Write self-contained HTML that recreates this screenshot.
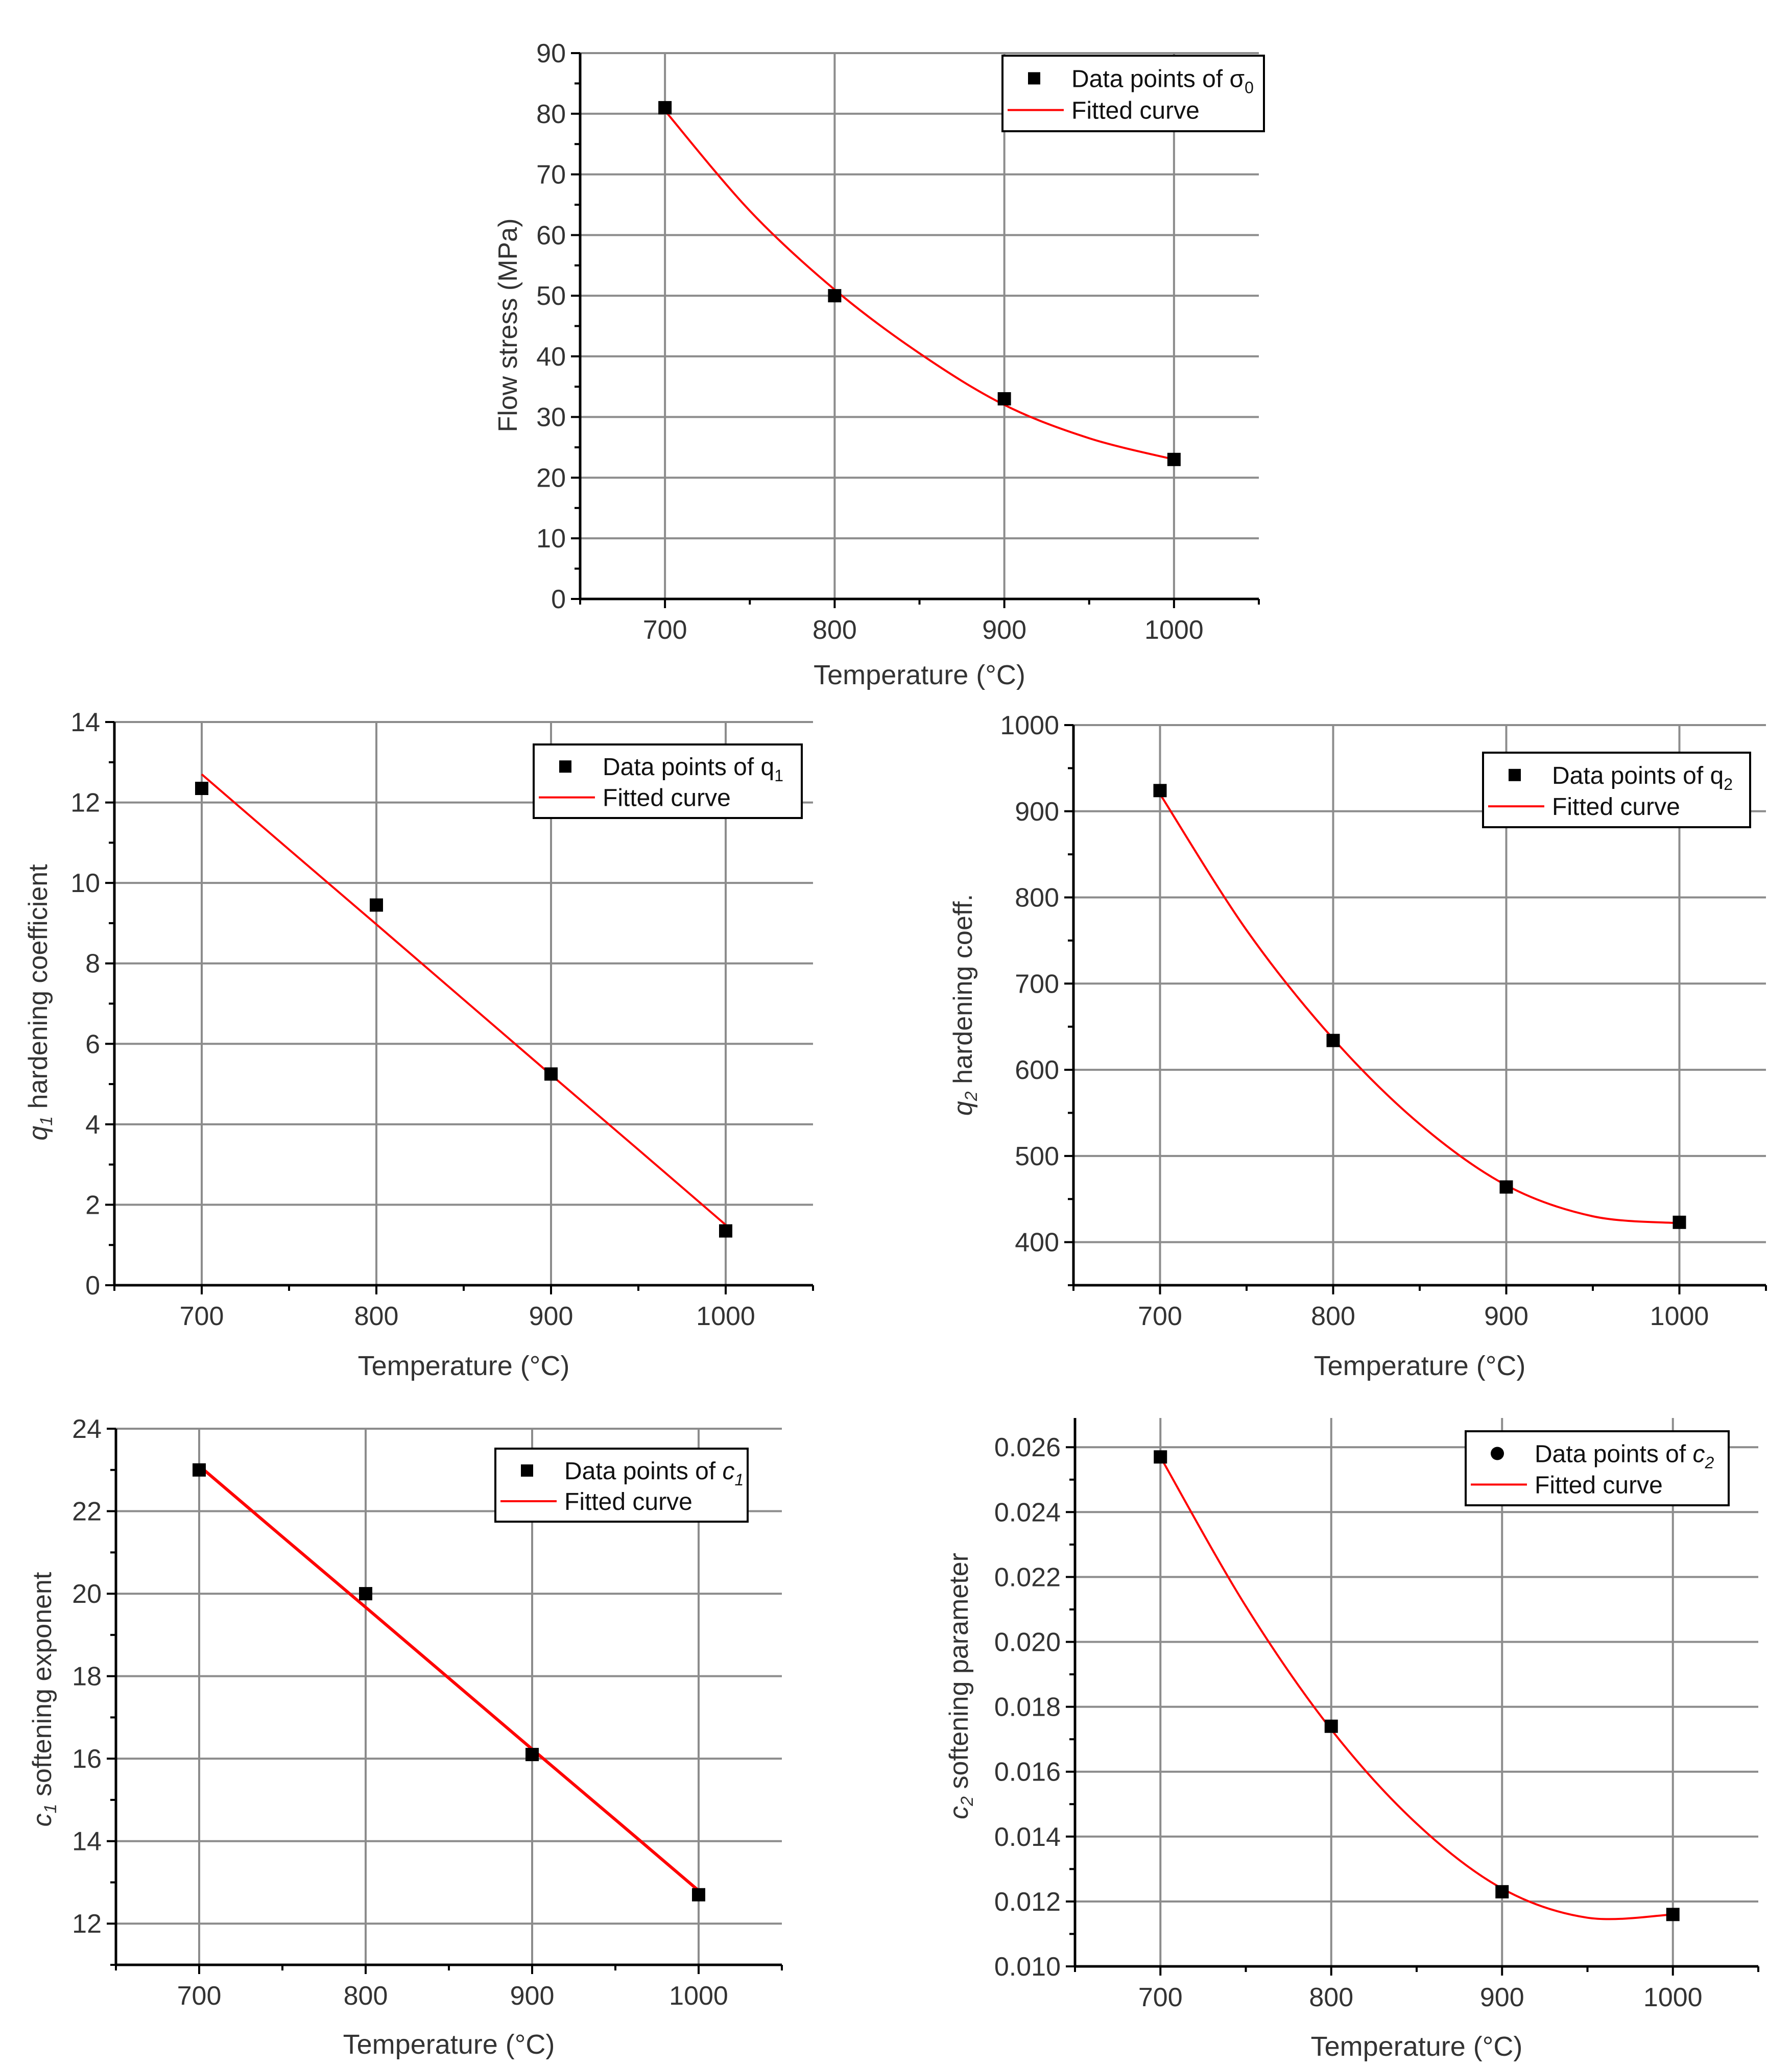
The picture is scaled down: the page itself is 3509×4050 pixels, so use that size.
<!DOCTYPE html>
<html><head><meta charset="utf-8">
<style>
html,body{margin:0;padding:0;background:#fff;}
svg{display:block;font-family:"Liberation Sans",Arial,sans-serif;}
</style></head>
<body>
<svg id="fig" width="3509" height="4050" viewBox="0 0 3509 4050" xmlns="http://www.w3.org/2000/svg"></svg>
<script>
const temps = [700, 800, 900, 1000];
const xTicks = [700, 800, 900, 1000];
const fitTemps = [700, 750, 800, 850, 900, 950, 1000];

const sigmaData = [81, 50, 33, 23];
const sigmaFit = [80.5, 64, 51, 40.5, 32, 26.5, 23];
const sigmaTicks = [0,10,20,30,40,50,60,70,80,90];

const q1Data = [12.35, 9.45, 5.25, 1.35];
const q1Fit = [12.7, 10.83, 8.97, 7.1, 5.23, 3.37, 1.5];
const q1Ticks = [0,2,4,6,8,10,12,14];

const q2Data = [924, 634, 464, 423];
const q2Fit = [920, 762, 636, 537, 466, 430, 422];
const q2Ticks = [400,500,600,700,800,900,1000];

const c1Data = [23.0, 20.0, 16.1, 12.7];
const c1Fit = [23.1, 21.38, 19.67, 17.95, 16.23, 14.52, 12.8];
const c1Ticks = [12,14,16,18,20,22,24];

const c2Data = [0.0257, 0.0174, 0.0123, 0.0116];
const c2Fit = [0.0257, 0.0211, 0.0173, 0.0144, 0.0124, 0.0115, 0.0116];
const c2Ticks = [0.010,0.012,0.014,0.016,0.018,0.020,0.022,0.024,0.026];

const NS = "http://www.w3.org/2000/svg";
const svg = document.getElementById('fig');
function mk(tag, attrs, parent){
  const e = document.createElementNS(NS, tag);
  for (const k in attrs) e.setAttribute(k, attrs[k]);
  (parent||svg).appendChild(e);
  return e;
}

function chart(cfg){
  const g = mk('g', {});
  
  
  const X = v => cfg.L + (v - 650) / 400 * (cfg.R - cfg.L);
  const Y = v => cfg.B - (v - cfg.ymin) / (cfg.ymax - cfg.ymin) * (cfg.B - cfg.T);
  // grid
  xTicks.forEach(t => {
    const l = mk('line', {x1:X(t), x2:X(t), y1:cfg.T, y2:cfg.B, stroke:'#8c8c8c', 'stroke-width':4}, g);
    
    
  });
  cfg.yticks.forEach(t => {
    if (Math.abs(Y(t) - cfg.B) < 2) return;
    const l = mk('line', {x1:cfg.L, x2:cfg.R, y1:Y(t), y2:Y(t), stroke:'#8c8c8c', 'stroke-width':4}, g);
    
    
  });
  // axes
  const ax = mk('line', {x1:cfg.L, x2:cfg.R, y1:cfg.B, y2:cfg.B, stroke:'#000', 'stroke-width':5}, g);
  
  
  const ay = mk('line', {x1:cfg.L, x2:cfg.L, y1:cfg.T, y2:cfg.B, stroke:'#000', 'stroke-width':5}, g);
  
  
  // x ticks
  for (let t = 650; t <= 1050; t += 50) {
    const major = t % 100 === 0;
    mk('line', {x1:X(t), x2:X(t), y1:cfg.B, y2:cfg.B + (major ? 18 : 11), stroke:'#000', 'stroke-width':4}, g);
  }
  xTicks.forEach(t => {
    const tx = mk('text', {x:X(t), y:cfg.B + 78, 'text-anchor':'middle', 'font-size':52, fill:'#333'}, g);
    tx.textContent = t;
    
    
  });
  // y ticks
  const step = cfg.yticks[1] - cfg.yticks[0];
  cfg.yticks.forEach((t, i) => {
    mk('line', {x1:cfg.L - 18, x2:cfg.L, y1:Y(t), y2:Y(t), stroke:'#000', 'stroke-width':4}, g);
    const m = t - step / 2;
    if (m > cfg.ymin - 1e-9) mk('line', {x1:cfg.L - 11, x2:cfg.L, y1:Y(m), y2:Y(m), stroke:'#000', 'stroke-width':4}, g);
    const tx = mk('text', {x:cfg.L - 28, y:Y(t) + 18, 'text-anchor':'end', 'font-size':52, fill:'#333'}, g);
    tx.textContent = cfg.fmt ? cfg.fmt(t) : t;
    
    
  });
  // titles
  const xt = mk('text', {x:(X(650)+X(1050))/2 + cfg.xtdx, y:cfg.xty, 'text-anchor':'middle', 'font-size':54, fill:'#333'}, g);
  xt.textContent = 'Temperature (°C)';
  
  
  const yt = mk('text', {transform:`translate(${cfg.ytx},${cfg.yty}) rotate(-90)`, 'text-anchor':'middle', 'font-size':52, fill:'#333'}, g);
  yt.innerHTML = cfg.ytitle;
  
  
  // fitted curve (Catmull-Rom through read fitted values)
  const pts = fitTemps.map((t, i) => [X(t), Y(cfg.fit[i])]);
  let d = `M${pts[0][0]},${pts[0][1]}`;
  for (let i = 0; i < pts.length - 1; i++) {
    const p0 = pts[Math.max(0, i-1)], p1 = pts[i], p2 = pts[i+1], p3 = pts[Math.min(pts.length-1, i+2)];
    const c1 = [p1[0] + (p2[0]-p0[0])/6, p1[1] + (p2[1]-p0[1])/6];
    const c2 = [p2[0] - (p3[0]-p1[0])/6, p2[1] - (p3[1]-p1[1])/6];
    d += ` C${c1[0]},${c1[1]} ${c2[0]},${c2[1]} ${p2[0]},${p2[1]}`;
  }
  const path = mk('path', {d:d, fill:'none', stroke:'#ff0000', 'stroke-width':cfg.lw || 4}, g);
  
  
  // data points
  temps.forEach((t, i) => {
    let p;
    if (cfg.circle) p = mk('rect', {x:X(t)-13, y:Y(cfg.data[i])-13, width:26, height:26, fill:'#000'}, g);
    else p = mk('rect', {x:X(t)-13, y:Y(cfg.data[i])-13, width:26, height:26, fill:'#000'}, g);
    
    
  });
  // legend
  const lg = mk('g', {}, g);
  
  
  const [lx1, ly1, lx2, ly2] = cfg.leg;
  mk('rect', {x:lx1, y:ly1, width:lx2-lx1, height:ly2-ly1, fill:'#fff', stroke:'#000', 'stroke-width':4}, lg);
  const r1 = ly1 + (ly2-ly1)*0.3, r2 = ly1 + (ly2-ly1)*0.72;
  const mx = lx1 + 62;
  if (cfg.circle) mk('circle', {cx:mx, cy:r1, r:13, fill:'#000'}, lg);
  else mk('rect', {x:mx-12, y:r1-12, width:24, height:24, fill:'#000'}, lg);
  mk('line', {x1:lx1+10, x2:lx1+120, y1:r2, y2:r2, stroke:'#ff0000', 'stroke-width':4}, lg);
  const e1 = mk('text', {x:lx1+135, y:r1+17, 'font-size':48, fill:'#111'}, lg);
  e1.innerHTML = cfg.legText;
  
  
  const e2 = mk('text', {x:lx1+135, y:r2+17, 'font-size':48, fill:'#111'}, lg);
  e2.textContent = 'Fitted curve';
  
  
}

chart({name:'flow-stress-chart', L:1136, R:2465, T:104, B:1173, ymin:0, ymax:90, yticks:sigmaTicks,
  data:sigmaData, fit:sigmaFit, xty:1340, xtdx:0, ytx:1012, yty:637,
  ytitle:'Flow stress (MPa)', leg:[1963,109,2475,257],
  legText:'Data points of σ<tspan font-size="32" dy="12">0</tspan>'});

chart({name:'q1-chart', L:224, R:1592, T:1414, B:2517, ymin:0, ymax:14, yticks:q1Ticks,
  data:q1Data, fit:q1Fit, xty:2693, xtdx:0, ytx:92, yty:1963,
  ytitle:'<tspan font-style="italic">q</tspan><tspan font-size="34" dy="10" font-style="italic">1</tspan><tspan dy="-10"> hardening coefficient</tspan>',
  leg:[1045,1458,1570,1602],
  legText:'Data points of q<tspan font-size="32" dy="12">1</tspan>'});

chart({name:'q2-chart', L:2102, R:3458, T:1420, B:2517, ymin:350, ymax:1000, yticks:q2Ticks,
  data:q2Data, fit:q2Fit, xty:2693, xtdx:0, ytx:1903, yty:1968,
  ytitle:'<tspan font-style="italic">q</tspan><tspan font-size="34" dy="10" font-style="italic">2</tspan><tspan dy="-10"> hardening coeff.</tspan>',
  leg:[2904,1474,3427,1620],
  legText:'Data points of q<tspan font-size="32" dy="12">2</tspan>'});

chart({name:'c1-chart', L:227, R:1531, T:2798, B:3848, ymin:11, ymax:24, yticks:c1Ticks,
  data:c1Data, fit:c1Fit, xty:4022, xtdx:0, ytx:100, yty:3328, lw:6,
  ytitle:'<tspan font-style="italic">c</tspan><tspan font-size="34" dy="10" font-style="italic">1</tspan><tspan dy="-10"> softening exponent</tspan>',
  leg:[970,2837,1464,2980],
  legText:'Data points of <tspan font-style="italic">c</tspan><tspan font-size="32" dy="12" font-style="italic">1</tspan>'});

chart({name:'c2-chart', L:2105, R:3443, T:2777, B:3851, ymin:0.010, ymax:0.0269, yticks:c2Ticks,
  data:c2Data, fit:c2Fit, xty:4026, xtdx:0, ytx:1895, yty:3302, circle:true,
  fmt: v => v.toFixed(3),
  ytitle:'<tspan font-style="italic">c</tspan><tspan font-size="34" dy="10" font-style="italic">2</tspan><tspan dy="-10"> softening parameter</tspan>',
  leg:[2870,2803,3385,2948],
  legText:'Data points of <tspan font-style="italic">c</tspan><tspan font-size="32" dy="12" font-style="italic">2</tspan>'});
</script>
</body></html>
